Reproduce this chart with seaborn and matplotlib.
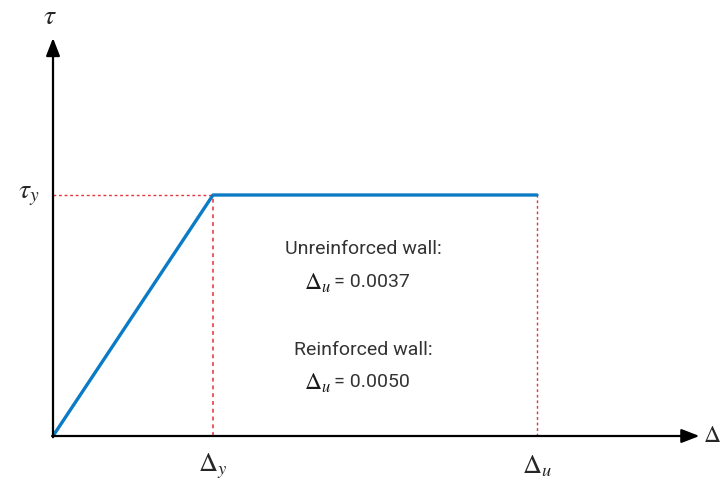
import matplotlib
matplotlib.use("Agg")
import matplotlib.pyplot as plt
import seaborn as sns
import pandas as pd

# Idealised bilinear shear stress / drift law (normalised units)
delta_y = 1.0
delta_u = 3.025
tau_y = 1.0
drift = [0.0, delta_y, delta_u]
stress = [0.0, tau_y, tau_y]

wall_types = ["Unreinforced wall:", "Reinforced wall:"]
ultimate_drift = ["0.0037", "0.0050"]

sns.set_theme(style="white")
plt.rcParams["font.family"] = ["Roboto", "DejaVu Sans"]
plt.rcParams["mathtext.fontset"] = "stix"

fig = plt.figure(figsize=(7.22, 4.82), dpi=100)
ax = fig.add_axes([0, 0, 1, 1])
ax.set_xlim(-53 / 160, (722 - 53) / 160)
ax.set_ylim((436 - 482) / 241, 436 / 241)
ax.axis("off")

blue = "#0a7bc4"
red = "#e8323c"

# Reference lines to the yield and ultimate points
ax.plot([0, delta_y], [tau_y, tau_y], ls=(0, (2, 2)), color=red, lw=1.0)
ax.plot([delta_y, delta_y], [0, tau_y], ls=(0, (2, 2)), color=red, lw=1.4, alpha=0.8)
ax.plot([delta_u, delta_u], [0, tau_y], ls=(0, (2, 2)), color=red, lw=1.0)

# Axes with arrows
ax.annotate("", xy=(4.04, 0), xytext=(-0.005, 0),
            arrowprops=dict(arrowstyle="-|>,head_length=0.9,head_width=0.35",
                            color="black", lw=1.6, shrinkA=0, shrinkB=0))
ax.annotate("", xy=(0, (436 - 38) / 241), xytext=(0, -0.005),
            arrowprops=dict(arrowstyle="-|>,head_length=0.9,head_width=0.35",
                            color="black", lw=1.6, shrinkA=0, shrinkB=0))

df = pd.DataFrame({"drift": drift, "stress": stress})
sns.lineplot(data=df, x="drift", y="stress", ax=ax, color=blue, lw=2.4,
             sort=False, estimator=None)
ax.set_xlabel("")
ax.set_ylabel("")

# Axis labels
ax.text(-0.02, (436 - 17) / 241, r"$\tau$", fontsize=20, ha="center", va="center")
ax.text(-0.15, tau_y, r"$\tau_y$", fontsize=20, ha="center", va="center")
ax.text(delta_y, -30 / 241, r"$\Delta_y$", fontsize=19, ha="center", va="center")
ax.text(delta_u, -30 / 241, r"$\Delta_u$", fontsize=19, ha="center", va="center")
ax.text((703 - 53) / 160, 0, r"$\Delta$", fontsize=17, ha="left", va="center")

# Ultimate drift annotations
cx = (363 - 53) / 160
split = (331 - 53) / 160
rows = [(249, 283), (350, 383)]
txt = "#333333"
for name, val, (py1, py2) in zip(wall_types, ultimate_drift, rows):
    ax.text(cx, (436 - py1) / 241, name, fontsize=14,
            ha="center", va="center", color=txt)
    ax.text(split, (436 - py2) / 241, r"$\Delta_u$", fontsize=17,
            ha="right", va="center", color="#1a1a1a")
    ax.text(split + 3 / 160, (436 - py2) / 241 + 1 / 241, "= " + val,
            fontsize=14, ha="left", va="center", color=txt)

fig.savefig("out.png", dpi=100)
